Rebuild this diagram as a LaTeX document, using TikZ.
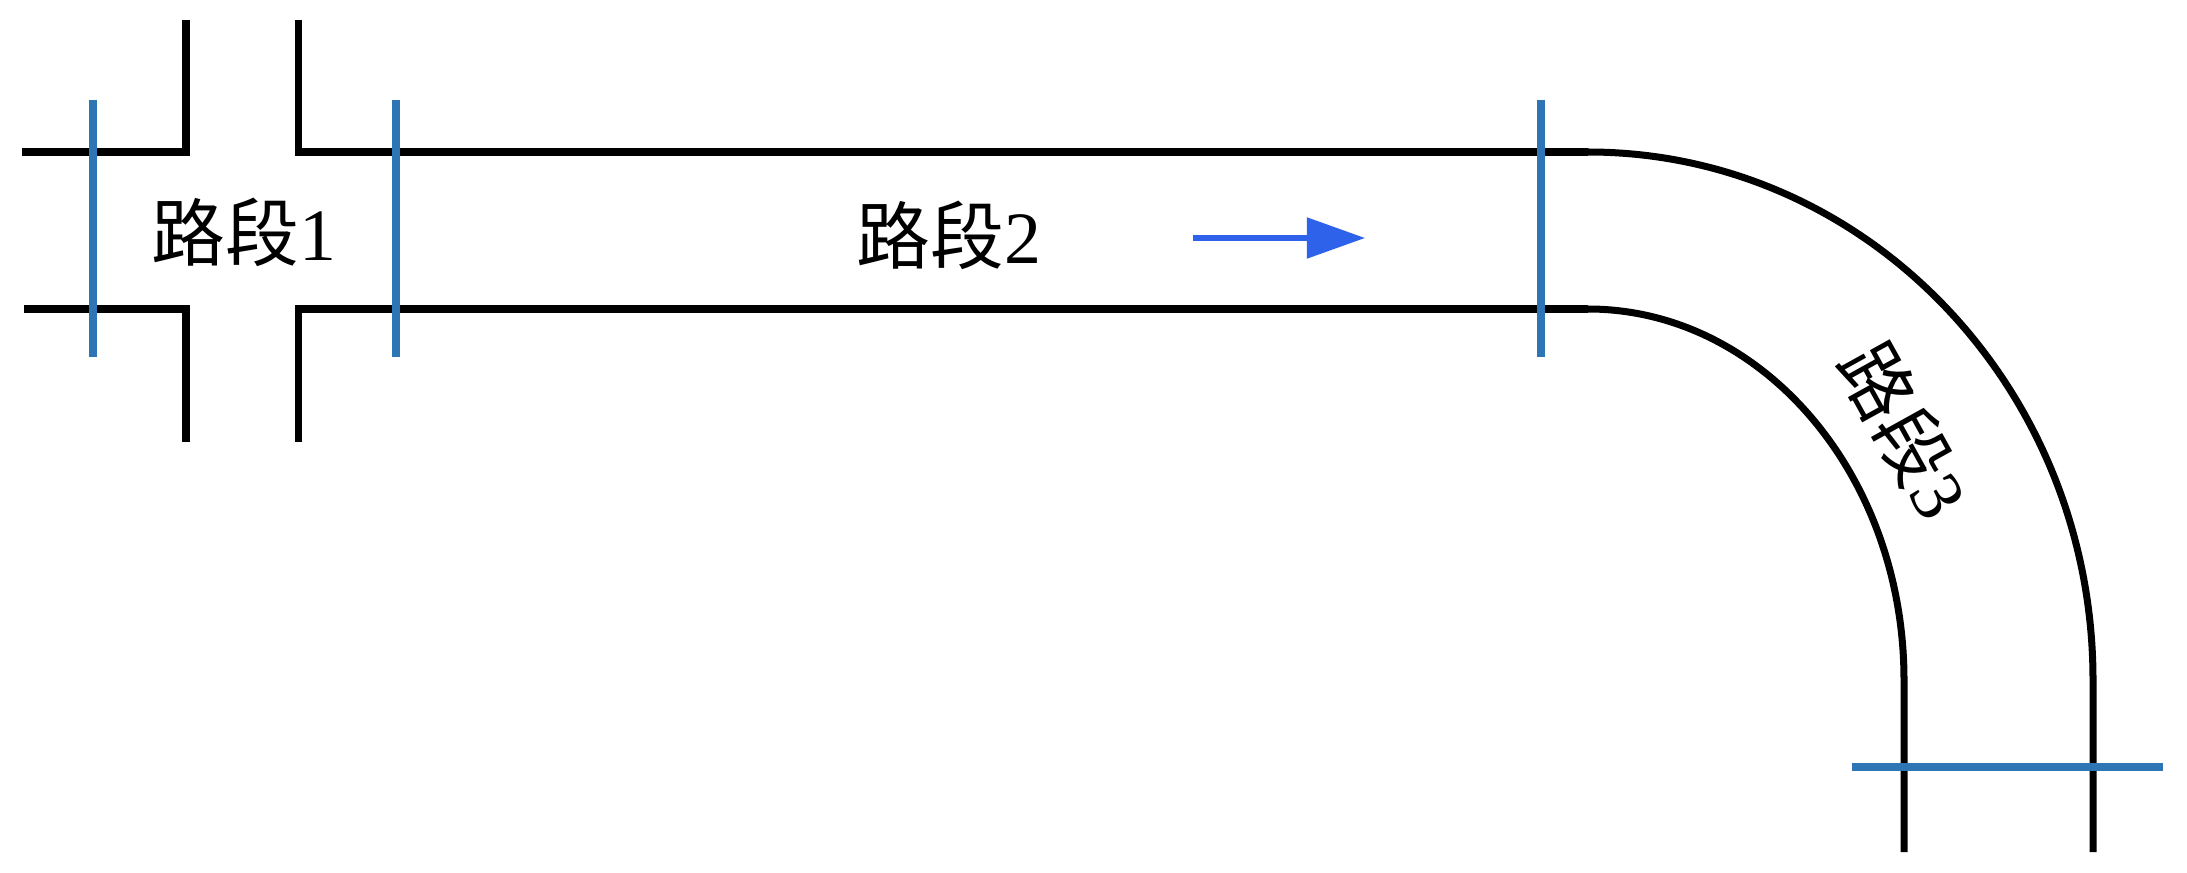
\documentclass[tikz,border=0pt]{standalone}
\usepackage{fontspec}
\setmainfont{Liberation Serif}
\newfontfamily\cjk{Noto Sans CJK SC}
\usepackage{xcolor}
\usetikzlibrary{arrows.meta,positioning}
\definecolor{cutblue}{RGB}{46,117,182}
\definecolor{flowblue}{RGB}{47,98,235}
\tikzset{%
	road/.style     = {line width=0.07cm, black},
	cut/.style      = {line width=0.075cm, color=cutblue},
	seglabel/.style = {font=\fontsize{21}{25}\selectfont, inner sep=0pt},
	flow/.style     = {line width=0.05cm, color=flowblue, -{Triangle[length=0.58cm,width=0.4cm]}},
}

\begin{document}
\begin{tikzpicture}[x=0.01cm,y=-0.01cm]
	\useasboundingbox (0,0) rectangle (2187,873);
	% crossing and straight road
	\draw[road] (22,152) -- (186,152) -- (186,20);
	\draw[road] (298,20) -- (298,152) -- (1588,152);
	\draw[road] (24,309) -- (186,309) -- (186,442);
	\draw[road] (298,442) -- (298,309) -- (1588,309);
	% bend
	\draw[road] (1588,152) arc[start angle=-90, end angle=0, x radius=505, y radius=528] -- (2093,852);
	\draw[road] (1588,309) arc[start angle=-90, end angle=0, x radius=316, y radius=371] -- (1904,852);
	% section cuts
	\draw[cut] (93,100) -- (93,357);
	\draw[cut] (396,100) -- (396,357);
	\draw[cut] (1541,100) -- (1541,357);
	\draw[cut] (1852,767) -- (2163,767);
	% labels
	\node[seglabel] (seg1) at (244,232) {{\cjk 路段}1};
	\node[seglabel] (seg2) at (949,235) {{\cjk 路段}2};
	\node[seglabel, rotate=-61] (seg3) at (1905,430) {{\cjk 路段}3};
	% driving direction
	\coordinate (flowstart) at (1193,238);
	\coordinate (flowend) at (1365,238);
	\draw[flow] (flowstart) -- (flowend);
\end{tikzpicture}
\end{document}
